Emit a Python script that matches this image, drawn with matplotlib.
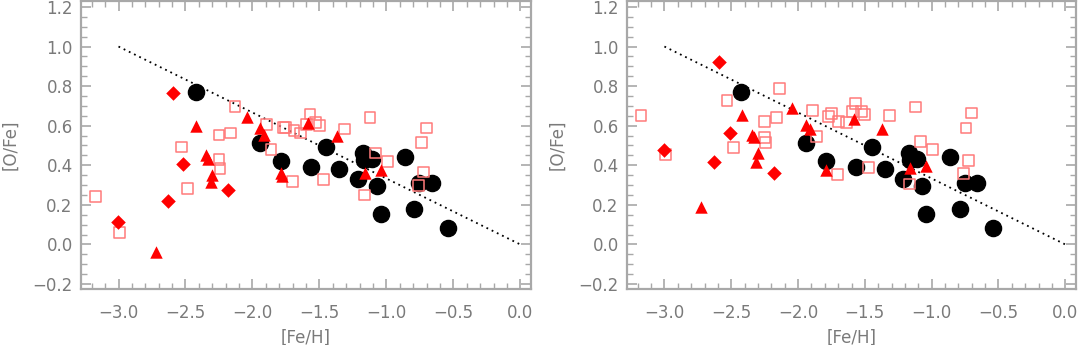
import matplotlib.pyplot as plt
import numpy as np

# Dados ([Fe/H], [O/Fe])

# circulos pretos (iguais nos dois paineis)
circ_feh = [-2.425, -1.942, -1.79, -1.563, -1.45, -1.35, -1.214, -1.172, -1.165, -1.11,
            -1.07, -1.04, -0.86, -0.79, -0.753, -0.66, -0.54]
circ_ofe = [0.77, 0.513, 0.42, 0.392, 0.492, 0.38, 0.332, 0.46, 0.428, 0.43,
            0.293, 0.153, 0.443, 0.18, 0.31, 0.31, 0.083]

# reta pontilhada
linha_feh = [-3.0, 0.0]
linha_ofe = [1.0, 0.0]

# painel da esquerda
esq_tri_feh = [-2.721, -2.425, -2.35, -2.33, -2.30, -2.31, -2.041, -1.944, -1.912,
               -1.79, -1.78, -1.583, -1.37, -1.159, -1.04]
esq_tri_ofe = [-0.039, 0.596, 0.45, 0.43, 0.352, 0.318, 0.643, 0.588, 0.554,
               0.36, 0.345, 0.613, 0.549, 0.36, 0.377]

esq_dia_feh = [-2.592, -2.517, -2.634, -3.005, -2.18]
esq_dia_ofe = [0.765, 0.406, 0.221, 0.111, 0.275]

esq_sq_feh = [-3.172, -2.99, -2.529, -2.484, -2.25, -2.163, -2.25, -2.243, -2.13,
              -1.894, -1.862, -1.77, -1.752, -1.69, -1.64, -1.57, -1.595, -1.53,
              -1.50, -1.703, -1.47, -1.31, -1.122, -1.082, -0.992, -1.162,
              -0.70, -0.74, -0.72, -0.76]
esq_sq_ofe = [0.242, 0.06, 0.492, 0.283, 0.553, 0.563, 0.431, 0.384, 0.697,
              0.607, 0.478, 0.591, 0.591, 0.576, 0.563, 0.659, 0.605, 0.616,
              0.601, 0.317, 0.33, 0.583, 0.64, 0.462, 0.418, 0.25,
              0.588, 0.517, 0.366, 0.296]

# painel da direita
dir_tri_feh = [-2.724, -2.42, -2.342, -2.33, -2.30, -2.312, -2.043, -1.942, -1.914,
               -1.79, -1.585, -1.37, -1.165, -1.042]
dir_tri_ofe = [0.189, 0.655, 0.554, 0.545, 0.462, 0.419, 0.689, 0.605, 0.583,
               0.377, 0.635, 0.584, 0.384, 0.396]

dir_dia_feh = [-2.592, -3.0, -2.512, -2.632, -2.183]
dir_dia_ofe = [0.924, 0.475, 0.563, 0.419, 0.36]

dir_sq_feh = [-3.175, -2.99, -2.532, -2.484, -2.253, -2.163, -2.253, -2.245, -2.136,
              -1.894, -1.864, -1.707, -1.772, -1.75, -1.695, -1.64, -1.572, -1.59,
              -1.528, -1.503, -1.314, -1.473, -1.122, -1.082, -0.993, -1.164,
              -0.703, -0.743, -0.724, -0.763]
dir_sq_ofe = [0.652, 0.456, 0.729, 0.488, 0.623, 0.64, 0.542, 0.517, 0.788,
              0.675, 0.545, 0.355, 0.646, 0.66, 0.621, 0.616, 0.714, 0.672,
              0.672, 0.658, 0.652, 0.39, 0.694, 0.52, 0.478, 0.305,
              0.664, 0.588, 0.424, 0.357]

cinza = '#a8a8a8'
texto = '#7a7a7a'

fig = plt.figure(figsize=(10.79, 3.45), dpi=100)
ax1 = fig.add_axes([81 / 1079, 56 / 345, 450 / 1079, 288 / 345])
ax2 = fig.add_axes([627 / 1079, 56 / 345, 449 / 1079, 288 / 345])

paineis = [
    (ax1, esq_tri_feh, esq_tri_ofe, esq_dia_feh, esq_dia_ofe, esq_sq_feh, esq_sq_ofe),
    (ax2, dir_tri_feh, dir_tri_ofe, dir_dia_feh, dir_dia_ofe, dir_sq_feh, dir_sq_ofe),
]

for ax, tx, ty, dx, dy, sx, sy in paineis:
    ax.plot(linha_feh, linha_ofe, color='black', lw=1.3, linestyle=(0, (1, 2.2)), zorder=1)
    ax.scatter(circ_feh, circ_ofe, s=135, marker='o', color='black', zorder=2)
    ax.scatter(sx, sy, s=60, marker='s', facecolors='none', edgecolors='#ff7a7a',
               linewidths=1.1, zorder=3)
    ax.scatter(tx, ty, s=80, marker='^', color='#ff0000', linewidths=0, zorder=4)
    ax.scatter(dx, dy, s=55, marker='D', color='#ff0000', linewidths=0, zorder=5)

    ax.set_xlim(-3.28, 0.08)
    ax.set_ylim(-0.225, 1.23)
    ax.set_xticks(np.arange(-3.0, 0.01, 0.5))
    ax.set_xticks(np.arange(-3.2, 0.05, 0.1), minor=True)
    ax.set_yticks(np.arange(-0.2, 1.21, 0.2))
    ax.set_yticks(np.arange(-0.2, 1.21, 0.05), minor=True)
    ax.set_xticklabels(['\u22123.0', '\u22122.5', '\u22122.0', '\u22121.5', '\u22121.0', '\u22120.5', '0.0'])
    ax.set_yticklabels(['\u22120.2', '0.0', '0.2', '0.4', '0.6', '0.8', '1.0', '1.2'])

    for sp in ax.spines.values():
        sp.set_color(cinza)
        sp.set_linewidth(1.6)
    ax.tick_params(which='both', direction='in', top=True, right=True, color=cinza,
                   labelcolor=texto, labelsize=12)
    ax.tick_params(which='major', length=7, width=1.2)
    ax.tick_params(which='minor', length=4, width=1.0)
    ax.tick_params(axis='x', which='major', pad=11)
    ax.tick_params(axis='y', which='major', pad=6)

    ax.set_xlabel('[Fe/H]', fontsize=12, color=texto)
    ax.set_ylabel('[O/Fe]', fontsize=12, color=texto)
    ax.xaxis.set_label_coords(0.5, -0.137)
    ax.yaxis.set_label_coords(-0.136, 0.5)

fig.savefig('out.png', dpi=100)
